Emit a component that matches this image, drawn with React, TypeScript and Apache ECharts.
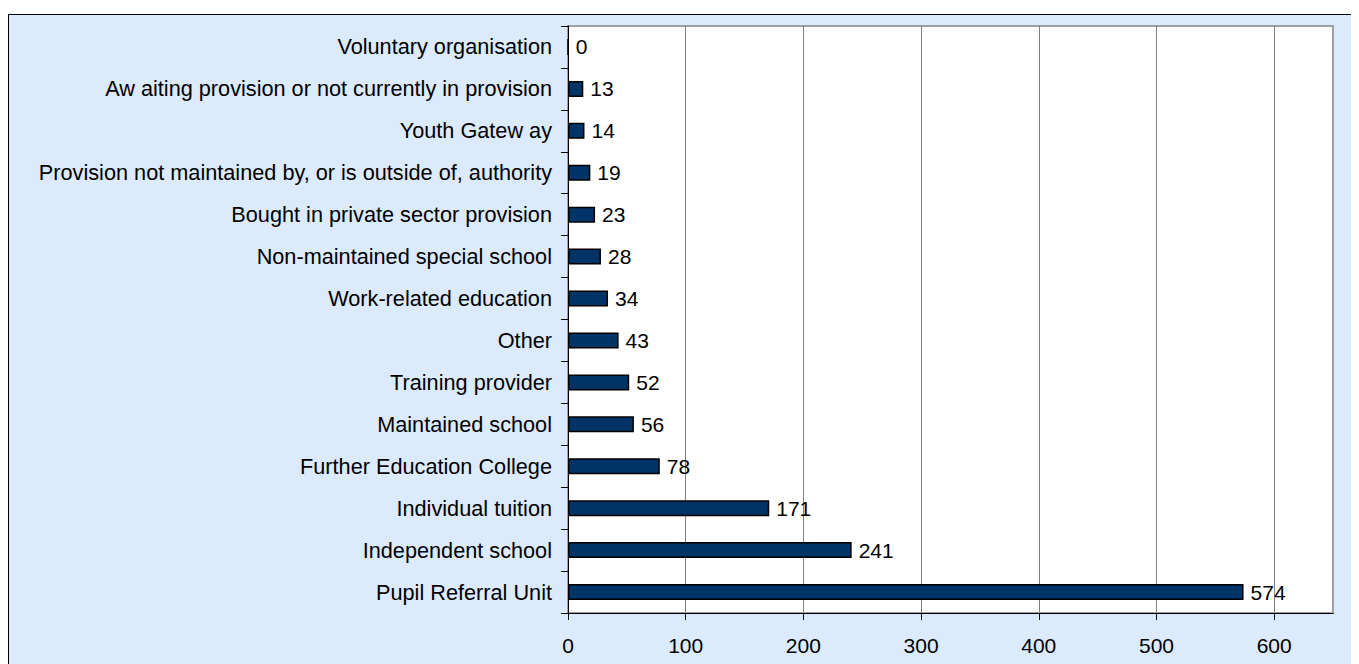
import React, { useEffect, useRef } from "react";
import * as echarts from "echarts";

const categories = [
  "Pupil Referral Unit",
  "Independent school",
  "Individual tuition",
  "Further Education College",
  "Maintained school",
  "Training provider",
  "Other",
  "Work-related education",
  "Non-maintained special school",
  "Bought in private sector provision",
  "Provision not maintained by, or is outside of, authority",
  "Youth Gatew ay",
  "Aw aiting provision or not currently in provision",
  "Voluntary organisation",
];
const values = [574, 241, 171, 78, 56, 52, 43, 34, 28, 23, 19, 14, 13, 0];
const xTicks = [0, 100, 200, 300, 400, 500, 600];

const FONT = 'Arial, "Liberation Sans", sans-serif';

export default function App() {
  const ref = useRef<HTMLDivElement>(null);
  useEffect(() => {
    document.documentElement.style.overflow = "hidden";
    document.body.style.overflow = "hidden";
    const chart = echarts.init(ref.current!, undefined, { renderer: "svg" });
    chart.setOption({
      animation: false,
      backgroundColor: "transparent",
      grid: {
        left: 559,
        top: 11,
        width: 765,
        height: 587,
        show: true,
        backgroundColor: "#ffffff",
        borderColor: "#a0a0a0",
        borderWidth: 2,
        containLabel: false,
      },
      xAxis: {
        type: "value",
        min: 0,
        max: 650,
        interval: 100,
        axisLine: { show: true, lineStyle: { color: "#000", width: 1 } },
        axisTick: { show: true, length: 7, lineStyle: { color: "#000" }, customValues: xTicks },
        axisLabel: {
          color: "#000",
          fontSize: 21,
          fontFamily: FONT,
          margin: 22,
          customValues: xTicks,
        },
        splitLine: { show: true, lineStyle: { color: "#808080", width: 1 } },
      },
      yAxis: {
        type: "category",
        data: categories,
        axisLine: { show: true, lineStyle: { color: "#000", width: 1 } },
        axisTick: { show: true, length: 7, lineStyle: { color: "#000" } },
        axisLabel: { color: "#000", fontSize: 21.7, fontFamily: FONT, margin: 16 },
        splitLine: { show: false },
      },
      series: [
        {
          type: "bar",
          data: values,
          barWidth: 16,
          itemStyle: { color: "#003366", borderColor: "#000", borderWidth: 1.5 },
          label: {
            show: true,
            position: "right",
            distance: 7,
            color: "#000",
            fontSize: 21,
            fontFamily: FONT,
          },
        },
      ],
    });
    return () => chart.dispose();
  }, []);
  return (
    <div style={{ paddingTop: 6 }}>
      <div
        style={{
          width: 1351,
          height: 660,
          borderTop: "1px solid #000",
          borderLeft: "1px solid #000",
          background: "#dceafe",
        }}
      >
        <div ref={ref} style={{ width: 1351, height: 660 }} />
      </div>
    </div>
  );
}
